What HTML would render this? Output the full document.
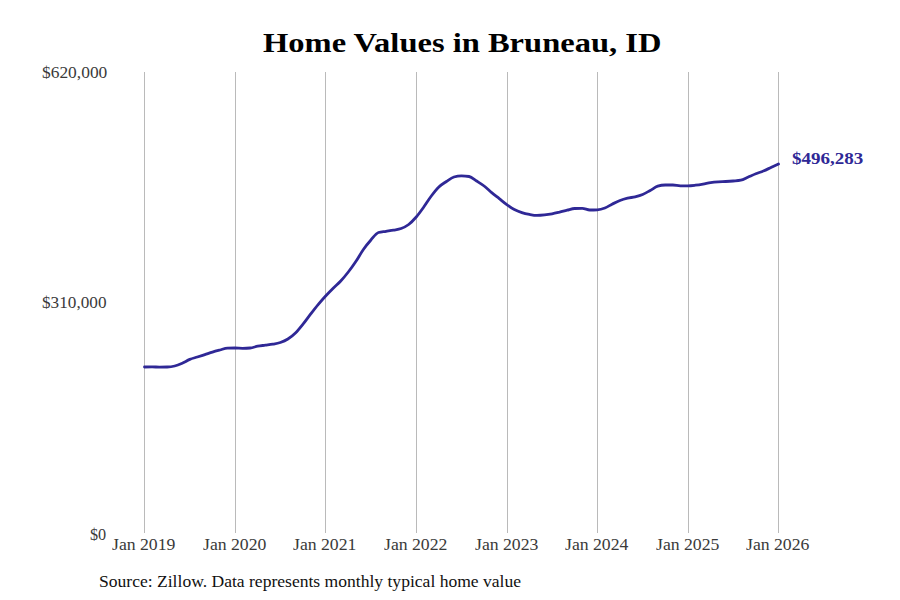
<!DOCTYPE html>
<html><head><meta charset="utf-8">
<style>
html,body{margin:0;padding:0;background:#fff;}
body{width:900px;height:600px;position:relative;overflow:hidden;font-family:"Liberation Serif",serif;}
.t{position:absolute;white-space:nowrap;line-height:1;transform-origin:0 0;}
svg{position:absolute;left:0;top:0;}
</style></head><body>
<svg width="900" height="600" viewBox="0 0 900 600">
<g stroke="#bababa" stroke-width="1"><line x1="144.5" y1="72" x2="144.5" y2="533"/><line x1="235.5" y1="72" x2="235.5" y2="533"/><line x1="325.5" y1="72" x2="325.5" y2="533"/><line x1="416.5" y1="72" x2="416.5" y2="533"/><line x1="507.5" y1="72" x2="507.5" y2="533"/><line x1="597.5" y1="72" x2="597.5" y2="533"/><line x1="688.5" y1="72" x2="688.5" y2="533"/><line x1="778.5" y1="72" x2="778.5" y2="533"/></g>
<path d="M144.50,367.00 C147.02,366.95 149.53,366.90 152.05,366.90 C154.56,366.90 157.08,367.10 159.60,367.10 C162.11,367.10 164.63,367.07 167.14,367.00 C169.66,366.93 172.17,366.63 174.69,366.00 C177.21,365.37 179.72,364.30 182.24,363.20 C184.75,362.10 187.27,360.43 189.79,359.40 C192.30,358.37 194.82,357.80 197.33,357.00 C199.85,356.20 202.37,355.42 204.88,354.60 C207.40,353.78 209.91,352.87 212.43,352.10 C214.94,351.33 217.46,350.67 219.98,350.00 C222.49,349.33 225.01,348.17 227.52,348.10 C230.04,348.03 232.56,348.00 235.07,348.00 C237.59,348.00 240.10,348.30 242.62,348.30 C245.13,348.30 247.65,348.20 250.17,348.00 C252.68,347.80 255.20,346.67 257.71,346.20 C260.23,345.73 262.75,345.53 265.26,345.20 C267.78,344.87 270.29,344.65 272.81,344.20 C275.33,343.75 277.84,343.37 280.36,342.50 C282.87,341.63 285.39,340.58 287.90,339.00 C290.42,337.42 292.94,335.47 295.45,333.00 C297.97,330.53 300.48,327.33 303.00,324.20 C305.52,321.07 308.03,317.47 310.55,314.20 C313.06,310.93 315.58,307.63 318.10,304.60 C320.61,301.57 323.13,298.73 325.64,296.00 C328.16,293.27 330.67,290.70 333.19,288.20 C335.71,285.70 338.22,283.70 340.74,281.00 C343.25,278.30 345.77,275.25 348.29,272.00 C350.80,268.75 353.32,265.25 355.83,261.50 C358.35,257.75 360.87,253.08 363.38,249.50 C365.90,245.92 368.41,242.83 370.93,240.00 C373.44,237.17 375.96,233.30 378.48,232.50 C380.99,231.70 383.51,231.70 386.02,231.30 C388.54,230.90 391.06,230.57 393.57,230.10 C396.09,229.63 398.60,229.43 401.12,228.50 C403.63,227.57 406.15,226.42 408.67,224.50 C411.18,222.58 413.70,219.92 416.21,217.00 C418.73,214.08 421.25,210.50 423.76,207.00 C426.28,203.50 428.79,199.33 431.31,196.00 C433.83,192.67 436.34,189.42 438.86,187.00 C441.37,184.58 443.89,183.17 446.40,181.50 C448.92,179.83 451.44,177.80 453.95,177.00 C456.47,176.20 458.98,175.80 461.50,175.80 C464.02,175.80 466.53,176.03 469.05,176.50 C471.56,176.97 474.08,179.42 476.60,181.00 C479.11,182.58 481.63,184.07 484.14,186.00 C486.66,187.93 489.17,190.50 491.69,192.60 C494.21,194.70 496.72,196.60 499.24,198.60 C501.75,200.60 504.27,202.77 506.79,204.60 C509.30,206.43 511.82,208.27 514.33,209.60 C516.85,210.93 519.37,211.80 521.88,212.60 C524.40,213.40 526.91,213.93 529.43,214.40 C531.94,214.87 534.46,215.40 536.98,215.40 C539.49,215.40 542.01,215.17 544.52,214.90 C547.04,214.63 549.56,214.27 552.07,213.80 C554.59,213.33 557.10,212.70 559.62,212.10 C562.13,211.50 564.65,210.80 567.17,210.20 C569.68,209.60 572.20,208.63 574.71,208.50 C577.23,208.37 579.75,208.30 582.26,208.30 C584.78,208.30 587.29,210.00 589.81,210.00 C592.33,210.00 594.84,209.93 597.36,209.80 C599.87,209.67 602.39,208.97 604.90,208.00 C607.42,207.03 609.94,205.25 612.45,204.00 C614.97,202.75 617.48,201.47 620.00,200.50 C622.52,199.53 625.03,198.82 627.55,198.20 C630.06,197.58 632.58,197.42 635.10,196.80 C637.61,196.18 640.13,195.55 642.64,194.50 C645.16,193.45 647.67,191.88 650.19,190.50 C652.71,189.12 655.22,187.00 657.74,186.20 C660.25,185.40 662.77,185.00 665.29,185.00 C667.80,185.00 670.32,185.00 672.83,185.00 C675.35,185.00 677.87,185.80 680.38,185.80 C682.90,185.80 685.41,185.80 687.93,185.80 C690.44,185.80 692.96,185.48 695.48,185.20 C697.99,184.92 700.51,184.53 703.02,184.10 C705.54,183.67 708.06,182.98 710.57,182.60 C713.09,182.22 715.60,181.98 718.12,181.80 C720.63,181.62 723.15,181.63 725.67,181.50 C728.18,181.37 730.70,181.22 733.21,181.00 C735.73,180.78 738.25,180.73 740.76,180.20 C743.28,179.67 745.79,178.07 748.31,177.00 C750.83,175.93 753.34,174.80 755.86,173.80 C758.37,172.80 760.89,172.05 763.40,171.00 C765.92,169.95 768.44,168.67 770.95,167.50 C773.47,166.33 775.98,165.17 778.50,164.00" fill="none" stroke="#2f2896" stroke-width="2.8" stroke-linejoin="round" stroke-linecap="round"/>
</svg>
<div class="t" style="left:263.00px;top:29.28px;font-size:27.53px;color:#000;font-weight:bold;transform:scale(1.1817,1.0000)">Home Values in Bruneau, ID</div>
<div class="t" style="left:41.60px;top:65.48px;font-size:16.00px;color:#3a3a3a;font-weight:normal;transform:scale(1.0884,1.0000)">$620,000</div>
<div class="t" style="left:42.30px;top:295.48px;font-size:16.00px;color:#3a3a3a;font-weight:normal;transform:scale(1.0747,1.0000)">$310,000</div>
<div class="t" style="left:90.00px;top:527.48px;font-size:16.00px;color:#3a3a3a;font-weight:normal;transform:scale(1.0147,1.0000)">$0</div>
<div class="t" style="left:98.60px;top:574.48px;font-size:16.00px;color:#111;font-weight:normal;transform:scale(1.0973,1.0000)">Source: Zillow. Data represents monthly typical home value</div>
<div class="t" style="left:792.00px;top:151.48px;font-size:16.00px;color:#2f2896;font-weight:bold;transform:scale(1.1879,1.0000)">$496,283</div>
<div class="t" style="left:111.65px;top:537.48px;font-size:16.00px;color:#3a3a3a;font-weight:normal;transform:scale(1.1060,1.0000)">Jan 2019</div>
<div class="t" style="left:202.65px;top:537.48px;font-size:16.00px;color:#3a3a3a;font-weight:normal;transform:scale(1.1060,1.0000)">Jan 2020</div>
<div class="t" style="left:292.65px;top:537.48px;font-size:16.00px;color:#3a3a3a;font-weight:normal;transform:scale(1.1060,1.0000)">Jan 2021</div>
<div class="t" style="left:383.65px;top:537.48px;font-size:16.00px;color:#3a3a3a;font-weight:normal;transform:scale(1.1060,1.0000)">Jan 2022</div>
<div class="t" style="left:474.65px;top:537.48px;font-size:16.00px;color:#3a3a3a;font-weight:normal;transform:scale(1.1060,1.0000)">Jan 2023</div>
<div class="t" style="left:564.65px;top:537.48px;font-size:16.00px;color:#3a3a3a;font-weight:normal;transform:scale(1.1060,1.0000)">Jan 2024</div>
<div class="t" style="left:655.65px;top:537.48px;font-size:16.00px;color:#3a3a3a;font-weight:normal;transform:scale(1.1060,1.0000)">Jan 2025</div>
<div class="t" style="left:745.65px;top:537.48px;font-size:16.00px;color:#3a3a3a;font-weight:normal;transform:scale(1.1060,1.0000)">Jan 2026</div>
</body></html>
